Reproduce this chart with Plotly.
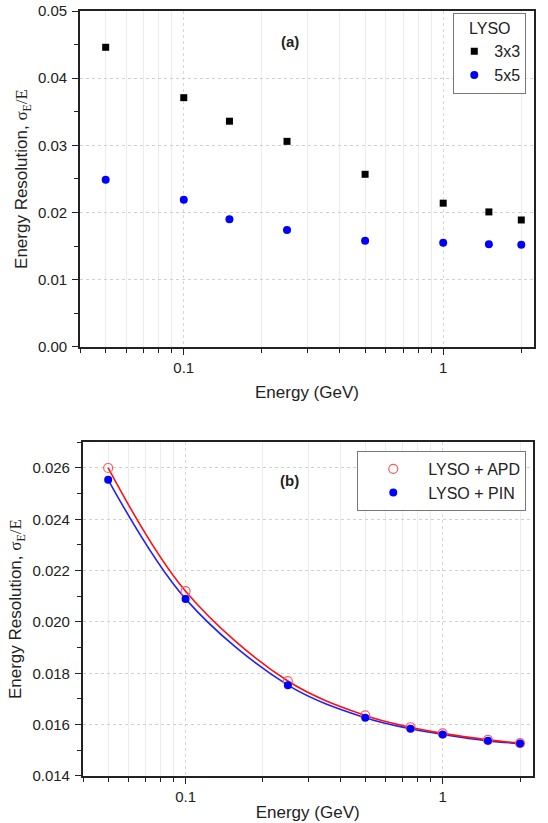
import plotly.graph_objects as go
from plotly.subplots import make_subplots

# ---------- data ----------
energy_a = [0.05, 0.1, 0.15, 0.25, 0.5, 1.0, 1.5, 2.0]
res_3x3 = [0.0446, 0.0371, 0.0336, 0.0306, 0.0257, 0.0214, 0.0201, 0.0189]
res_5x5 = [0.0249, 0.0219, 0.0190, 0.0174, 0.0158, 0.0155, 0.0153, 0.0152]

energy_b = [0.05, 0.1, 0.25, 0.5, 0.75, 1.0, 1.5, 2.0]
res_apd = [0.02600, 0.02120, 0.01770, 0.01636, 0.01590, 0.01566, 0.01541, 0.01528]
res_pin = [0.02554, 0.02090, 0.01754, 0.01627, 0.01584, 0.01562, 0.01537, 0.01527]

x_major_ticks = [0.1, 1]
x_major_labels = ["0.1", "1"]
x_minor_ticks = [0.04, 0.05, 0.06, 0.07, 0.08, 0.09, 0.2, 0.3, 0.4, 0.5, 0.6, 0.7, 0.8, 0.9, 2]

FONT = "Liberation Sans, Arial, sans-serif"
ytitle = "Energy Resolution, <span style='font-family:Liberation Serif'>σ<sub>E</sub>/E</span>"

fig = make_subplots(rows=2, cols=1, vertical_spacing=0.12)

fig.add_trace(go.Scatter(x=energy_a, y=res_3x3, mode="markers", name="3x3",
                         marker=dict(symbol="square", size=7, color="black"),
                         legend="legend"), row=1, col=1)
fig.add_trace(go.Scatter(x=energy_a, y=res_5x5, mode="markers", name="5x5",
                         marker=dict(symbol="circle", size=8, color="#0000ff"),
                         legend="legend"), row=1, col=1)

fig.add_trace(go.Scatter(x=energy_b, y=res_pin, mode="lines", line=dict(color="#2020ff", width=1.6, shape="spline", smoothing=1.0),
                         showlegend=False, hoverinfo="skip"), row=2, col=1)
fig.add_trace(go.Scatter(x=energy_b, y=res_apd, mode="lines", line=dict(color="#ff1010", width=1.6, shape="spline", smoothing=1.0),
                         showlegend=False, hoverinfo="skip"), row=2, col=1)
fig.add_trace(go.Scatter(x=energy_b, y=res_apd, mode="markers", name="LYSO + APD",
                         marker=dict(symbol="circle-open", size=9, color="#ff5a5a", line=dict(width=1.2)),
                         legend="legend2"), row=2, col=1)
fig.add_trace(go.Scatter(x=energy_b, y=res_pin, mode="markers", name="LYSO + PIN",
                         marker=dict(symbol="circle", size=8, color="#0000ff"),
                         legend="legend2"), row=2, col=1)

axis_common = dict(showline=True, linecolor="#222", linewidth=1.6, mirror=True,
                   ticks="outside", ticklen=6, tickwidth=1.3, tickcolor="#222",
                   tickfont=dict(family=FONT, size=15, color="#222"),
                   zeroline=False, automargin=False, ticklabeloverflow="allow")

xax = dict(type="log", range=[-1.40, 0.35], tickmode="array",
           tickvals=x_major_ticks, ticktext=x_major_labels,
           showgrid=True, gridcolor="#d8d8d8", griddash="dot", gridwidth=1,
           minor=dict(tickmode="array", tickvals=x_minor_ticks, ticks="outside", ticklen=4,
                      tickwidth=1.2, tickcolor="#222", showgrid=True, gridcolor="#ececec",
                      griddash="solid", gridwidth=1),
           title=dict(text="Energy (GeV)", font=dict(family=FONT, size=17, color="#222"), standoff=11),
           **axis_common)

fig.update_xaxes(**xax, row=1, col=1)
fig.update_xaxes(**xax, row=2, col=1)
fig.update_xaxes(domain=[0.0, 1.0], row=1, col=1)
fig.update_xaxes(domain=[0.006, 0.997], row=2, col=1)
fig.update_xaxes(title_standoff=2, row=2, col=1)

fig.update_yaxes(range=[0, 0.05], tickmode="linear", tick0=0, dtick=0.01, tickformat=".2f",
                 showgrid=True, gridcolor="#d0d0d0", griddash="dot", ticklabelstandoff=2,
                 minor=dict(dtick=0.005, ticks="outside", ticklen=4, tickwidth=1.2, tickcolor="#222", showgrid=False),
                 title=dict(text=ytitle, font=dict(family=FONT, size=17, color="#222"), standoff=6),
                 domain=[0.5608, 1.0], **axis_common, row=1, col=1)
fig.update_yaxes(range=[0.014, 0.027], tickmode="linear", tick0=0.014, dtick=0.002, tickformat=".3f",
                 showgrid=True, gridcolor="#d0d0d0", griddash="dot", ticklabelstandoff=2,
                 minor=dict(dtick=0.001, ticks="outside", ticklen=4, tickwidth=1.2, tickcolor="#222", showgrid=False),
                 title=dict(text=ytitle, font=dict(family=FONT, size=17, color="#222"), standoff=6),
                 domain=[0.0, 0.4362], **axis_common, row=2, col=1)

fig.add_annotation(text="<b>(a)</b>", x=0.462, y=0.96, xref="paper", yref="paper", yanchor="middle",
                   showarrow=False, font=dict(family=FONT, size=15, color="#222"))
fig.add_annotation(text="<b>(b)</b>", x=0.462, y=0.386, xref="paper", yref="paper", yanchor="middle",
                   showarrow=False, font=dict(family=FONT, size=15, color="#222"))

fig.update_layout(
    width=548, height=823,
    margin=dict(l=80, r=14, t=11, b=47),
    paper_bgcolor="white", plot_bgcolor="white",
    font=dict(family=FONT, color="#222"),
    legend=dict(x=0.983, y=0.998, xanchor="right", yanchor="top",
                bordercolor="#777", borderwidth=1, bgcolor="white",
                title=dict(text="LYSO", side="top center", font=dict(family=FONT, size=16)),
                font=dict(family=FONT, size=16), itemwidth=30, tracegroupgap=0),
    legend2=dict(x=0.983, y=0.425, xanchor="right", yanchor="top",
                 bordercolor="#777", borderwidth=1, bgcolor="white",
                 font=dict(family=FONT, size=16), itemwidth=60),
)

# remove the default 8px page margin so the figure fills the window exactly
fig.write_html("out.html", config={"displayModeBar": False},
               post_script="document.body.style.margin='0';")
